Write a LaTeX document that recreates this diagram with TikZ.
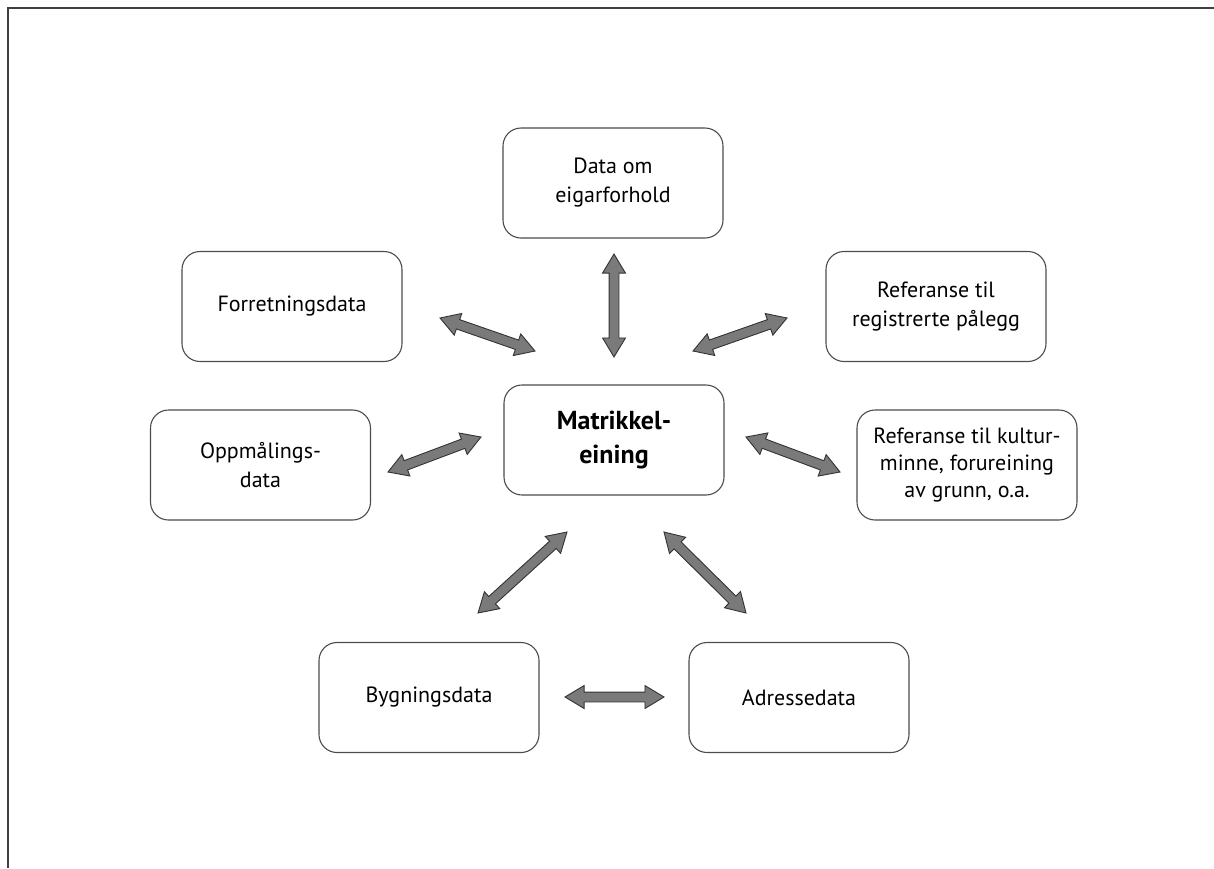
\documentclass[tikz,border=0pt]{standalone}
\usepackage{fontspec}
\setmainfont{PT Sans}
\usetikzlibrary{shapes.arrows,calc}
\tikzset{
  box/.style={draw=black!70, line width=1.1pt, rounded corners=18pt, minimum width=220pt,
    minimum height=110pt, align=center, inner sep=0pt, font=\fontsize{22}{29}\selectfont},
  dblarr/.style={double arrow, draw=black!80, line width=0.9pt, fill=black!52,
    inner xsep=0pt, inner ysep=4.5pt, minimum width=22pt, double arrow head extend=6.5pt,
    double arrow tip angle=62},
  frame/.style={draw=black!75, line width=1.4pt}
}
\newcommand{\fatarrow}[3]{%
  \path let \p1=($(#3)-(#2)$), \n1={veclen(\x1,\y1)}, \n2={atan2(\y1,\x1)} in
    node[dblarr, minimum height=\n1, rotate=\n2] (#1) at ($(#2)!0.5!(#3)$) {};}
\begin{document}
\begin{tikzpicture}[x=1pt,y=-1pt]
\useasboundingbox (0,0) rectangle (1214,868);
\coordinate (fc) at (8,868);
\coordinate (fa) at (8,8);
\coordinate (fb) at (1214,8);
\draw[frame] (fc) -- (fa) -- (fb);

\node[box] (own) at (613,183) {Data om\\eigarforhold};
\node[box] (forr) at (292,306.5) {Forretningsdata};
\node[box] (reg) at (936,306.5) {Referanse til\\registrerte pålegg};
\node[box, font=\bfseries\fontsize{26}{34}\selectfont] (mat) at (614,440) {Matrikkel-\\eining};
\node[box] (opp) at (260.5,465) {Oppmålings-\\data};
\node[box, font=\fontsize{22}{27}\selectfont] (kul) at (967,465) {Referanse til kultur-\\minne, forureining\\av grunn, o.a.};
\node[box] (byg) at (429,697.5) {Bygningsdata};
\node[box] (adr) at (799,697.5) {Adressedata};

\coordinate (a1s) at (440,318); \coordinate (a1e) at (535,351);
\coordinate (a2s) at (614,254); \coordinate (a2e) at (614,357);
\coordinate (a3s) at (693,351); \coordinate (a3e) at (787,318);
\coordinate (a4s) at (388,472); \coordinate (a4e) at (481,437);
\coordinate (a5s) at (746,437); \coordinate (a5e) at (840,472);
\coordinate (a6s) at (478,613); \coordinate (a6e) at (567,532);
\coordinate (a7s) at (664,532); \coordinate (a7e) at (746,613);
\coordinate (a8s) at (565,697); \coordinate (a8e) at (664,697);

\fatarrow{ar1}{a1s}{a1e}
\fatarrow{ar2}{a2s}{a2e}
\fatarrow{ar3}{a3s}{a3e}
\fatarrow{ar4}{a4s}{a4e}
\fatarrow{ar5}{a5s}{a5e}
\fatarrow{ar6}{a6s}{a6e}
\fatarrow{ar7}{a7s}{a7e}
\fatarrow{ar8}{a8s}{a8e}
\end{tikzpicture}
\end{document}
